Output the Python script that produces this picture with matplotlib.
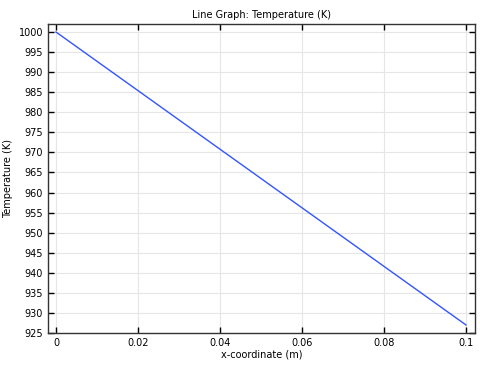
import numpy as np
import matplotlib.pyplot as plt

# Datos
x_coord = [0.0, 0.1]
temperature = [1000.0, 927.0]
x_ticks = [0, 0.02, 0.04, 0.06, 0.08, 0.1]
x_labels = ['0', '0.02', '0.04', '0.06', '0.08', '0.1']
y_ticks = list(range(925, 1001, 5))

fig = plt.figure(figsize=(4.81, 3.65), dpi=100)
ax = fig.add_axes([48 / 481, 32 / 365, 427 / 481, 309 / 365])

ax.plot(x_coord, temperature, color='#3355ff', linewidth=1.0)

ax.set_xlim(-0.00195, 0.1022)
ax.set_ylim(925, 1002)
ax.set_xticks(x_ticks)
ax.set_xticklabels(x_labels)
ax.set_yticks(y_ticks)
ax.grid(True, color='#e6e6e6', linewidth=0.8)
ax.set_axisbelow(True)
ax.tick_params(direction='in', top=True, right=True, labelsize=7, length=4, width=1)
for s in ax.spines.values():
    s.set_linewidth(1.0)
    s.set_color('#333333')

ax.set_title('Line Graph: Temperature (K)', fontsize=7, pad=4)
ax.set_xlabel('x-coordinate (m)', fontsize=7, labelpad=1)
ax.set_ylabel('Temperature (K)', fontsize=7, labelpad=4)

fig.savefig('out.png', dpi=100)
